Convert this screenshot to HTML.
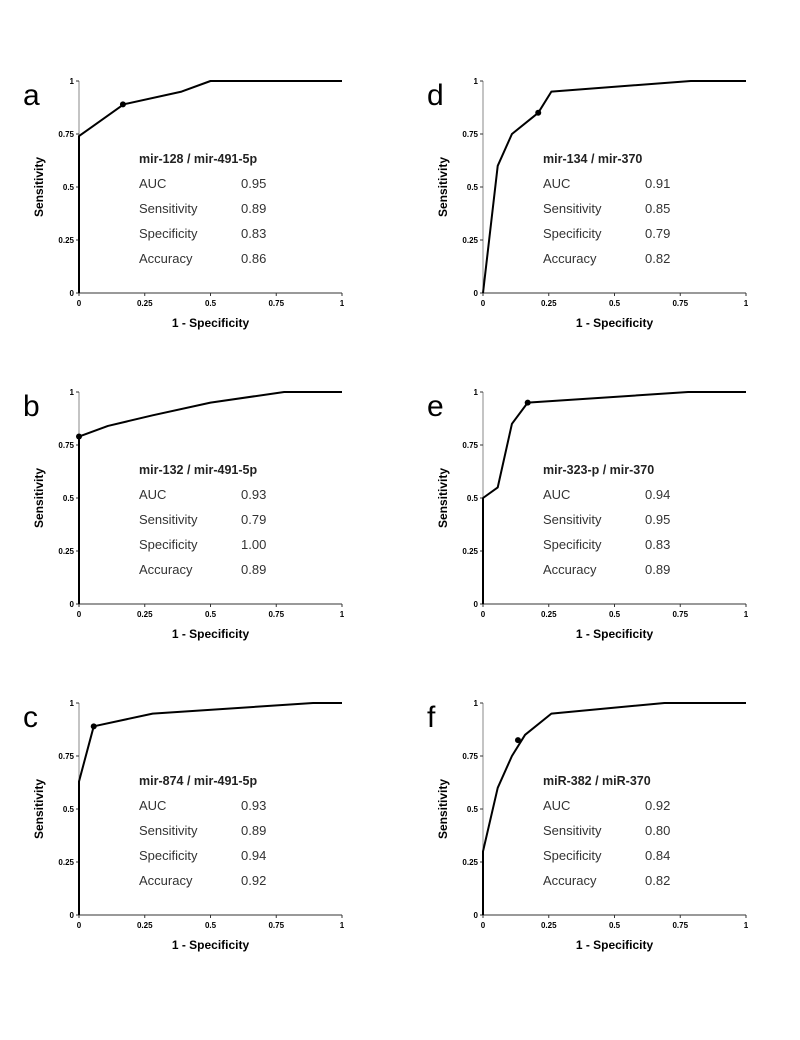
<!DOCTYPE html>
<html><head><meta charset="utf-8"><style>
body{margin:0;background:#fff;}
svg text{font-family:"Liberation Sans",Arial,sans-serif;}
</style></head><body>
<svg id="fig" width="800" height="1035" xmlns="http://www.w3.org/2000/svg"></svg>
<script>
const panelLabels=["a","b","c","d","e","f"];
const panelTitles=["mir-128 / mir-491-5p","mir-132 / mir-491-5p","mir-874 / mir-491-5p","mir-134 / mir-370","mir-323-p / mir-370","miR-382 / miR-370"];
const fprValues=[
 [0,0,0.17,0.39,0.5,1],
 [0,0,0.11,0.28,0.5,0.78,1],
 [0,0,0.056,0.28,0.89,1],
 [0,0.056,0.11,0.21,0.26,0.79,1],
 [0,0,0.056,0.11,0.17,0.78,1],
 [0,0,0.056,0.11,0.16,0.26,0.69,1]];
const tprValues=[
 [0,0.74,0.89,0.95,1,1],
 [0,0.79,0.84,0.89,0.95,1,1],
 [0,0.63,0.89,0.95,1,1],
 [0,0.6,0.75,0.85,0.95,1,1],
 [0,0.5,0.55,0.85,0.95,1,1],
 [0,0.3,0.6,0.75,0.85,0.95,1,1]];
const cutoffX=[0.167,0,0.056,0.21,0.17,0.133];
const cutoffY=[0.89,0.79,0.89,0.85,0.95,0.825];
const statNames=["AUC","Sensitivity","Specificity","Accuracy"];
const statValues=[["0.95","0.89","0.83","0.86"],["0.93","0.79","1.00","0.89"],["0.93","0.89","0.94","0.92"],["0.91","0.85","0.79","0.82"],["0.94","0.95","0.83","0.89"],["0.92","0.80","0.84","0.82"]];
const tickValues=[0,0.25,0.5,0.75,1];
const tickLabels=["0","0.25","0.5","0.75","1"];

const NS="http://www.w3.org/2000/svg";
const svg=document.getElementById('fig');
function mk(tag,attrs,parent,text){const e=document.createElementNS(NS,tag);for(const k in attrs)e.setAttribute(k,attrs[k]);if(text!==undefined)e.textContent=text;parent.appendChild(e);return e;}
const W=263,H=212;
for(let p=0;p<6;p++){
 const ox=p<3?79:483, oy=[81,392,703][p%3];
 const xs=v=>ox+v*W, ys=v=>oy+H-v*H;
 const g=mk('g',{},svg);
 
 
 const lab=mk('text',{x:ox-56,y:oy+24,'font-size':30},g,panelLabels[p]);
 
 const ya=mk('line',{x1:ox,y1:oy,x2:ox,y2:oy+H,stroke:'#888','stroke-width':1},g);
 
 const xa=mk('line',{x1:ox,y1:oy+H,x2:ox+W,y2:oy+H,stroke:'#333','stroke-width':1},g);
 
 tickValues.forEach((t,i)=>{
  mk('line',{x1:xs(t),y1:oy+H,x2:xs(t),y2:oy+H+3,stroke:'#333'},g);
  mk('line',{x1:ox-3,y1:ys(t),x2:ox,y2:ys(t),stroke:'#333'},g);
  const tx=mk('text',{x:xs(t),y:oy+H+13,'font-size':8,'font-weight':'bold','text-anchor':'middle'},g,tickLabels[i]);
  
  const ty=mk('text',{x:ox-5,y:ys(t)+3,'font-size':8,'font-weight':'bold','text-anchor':'end'},g,tickLabels[i]);
  
 });
 const xt=mk('text',{x:ox+W/2,y:oy+H+34,'font-size':12,'font-weight':'bold','text-anchor':'middle'},g,'1 - Specificity');
 
 const yt=mk('text',{x:0,y:0,'font-size':12,'font-weight':'bold','text-anchor':'middle',transform:`translate(${ox-36},${oy+H/2}) rotate(-90)`},g,'Sensitivity');
 
 const pts=fprValues[p].map((v,i)=>xs(v)+','+ys(tprValues[p][i])).join(' ');
 const pl=mk('polyline',{points:pts,fill:'none',stroke:'#000','stroke-width':2,'stroke-linejoin':'round'},g);
 
 const dot=mk('circle',{cx:xs(cutoffX[p]),cy:ys(cutoffY[p]),r:3,fill:'#000'},g);
 
 const tt=mk('text',{x:ox+60,y:oy+82,'font-size':12.5,'font-weight':'bold',fill:'#222'},g,panelTitles[p]);
 
 statNames.forEach((n,i)=>{
  const a=mk('text',{x:ox+60,y:oy+107+i*25,'font-size':13,fill:'#333'},g,n);
  
  const b=mk('text',{x:ox+162,y:oy+107+i*25,'font-size':13,fill:'#333'},g,statValues[p][i]);
  
 });
}
</script>
</body></html>
